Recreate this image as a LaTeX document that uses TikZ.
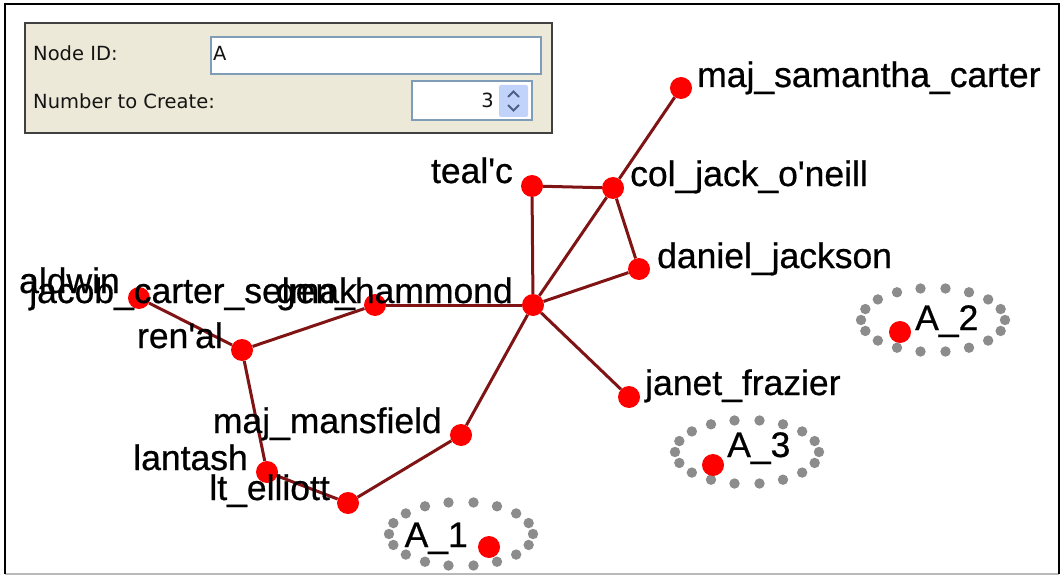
\documentclass[tikz,border=0pt]{standalone}
\usepackage{fontspec}
\setmainfont{Liberation Sans}[Ligatures=TeXOff]
\newfontfamily\labfont{Liberation Sans}[Ligatures=TeXOff, FakeBold=0.6]
\newfontfamily\uifont{DejaVu Sans}
\definecolor{edgered}{RGB}{128,20,20}
\definecolor{nodered}{RGB}{255,0,0}
\definecolor{dotgray}{RGB}{140,140,140}
\definecolor{panelbg}{RGB}{236,233,216}
\definecolor{panelborder}{RGB}{64,64,64}
\definecolor{fieldborder}{RGB}{127,157,185}
\definecolor{btnblue}{RGB}{193,211,251}
\definecolor{arrowc}{RGB}{77,97,133}
\definecolor{uitext}{RGB}{20,20,20}
\begin{document}
\begin{tikzpicture}[x=1pt,y=-1pt,
  edge/.style={draw=edgered, line width=3pt},
  vert/.style={circle, fill=nodered, minimum size=22pt, inner sep=0pt},
  lab/.style={font=\labfont\fontsize{35.5}{42}\selectfont, inner sep=0pt, text=black},
  ui/.style={font=\uifont\fontsize{19.5}{23}\selectfont, inner sep=0pt, text=uitext},
  dotring/.style={fill=dotgray}
]
\useasboundingbox (0,0) rectangle (1063,575);
\fill[white] (0,0) rectangle (1063,575);
% frame
\draw[gray!55, line width=2pt] (5,574) -- (1059,574);
\draw[black, line width=2pt] (5,574) -- (5,4) -- (1059,4) -- (1059,574);

% control panel
\draw[draw=panelborder, line width=2pt, fill=panelbg] (25,23) rectangle (552,133);
\draw[draw=fieldborder, line width=1.5pt, fill=white] (211,37) rectangle (541,74);
\draw[draw=fieldborder, line width=1.5pt, fill=white] (412,81) rectangle (532,120);
\fill[btnblue, rounded corners=2pt] (499,85) rectangle (528,117);
\draw[arrowc, line width=2pt] (508,97) -- (513.5,91.5) -- (519,97);
\draw[arrowc, line width=2pt] (508,105) -- (513.5,110.5) -- (519,105);
\node[ui, anchor=base west] (nidlabel) at (33,61) {Node ID:};
\node[ui, anchor=base west] (numlabel) at (33,109) {Number to Create:};
\node[ui, anchor=base west] (nidval) at (213,61) {A};
\node[ui, anchor=base east] (numval) at (494,108) {3};

% dotted rings
\foreach \cx/\cy in {461/534, 747/452, 933/320}{
  \foreach \a in {0,20,...,340}{
    \fill[dotring] (\cx,\cy) ++(\a:72 and 32) circle[radius=5.2pt];
  }
}

% graph nodes
\node[vert] (aldwin) at (139,298) {};
\node[vert] (jacob) at (375,305) {};
\node[vert] (gen) at (533,305) {};
\node[vert] (renal) at (242,350) {};
\node[vert] (lantash) at (267,472) {};
\node[vert] (elliott) at (348,503) {};
\node[vert] (mansfield) at (461,435) {};
\node[vert] (tealc) at (532,186) {};
\node[vert] (jack) at (613,188) {};
\node[vert] (sam) at (681,88) {};
\node[vert] (daniel) at (639,269) {};
\node[vert] (janet) at (629,397) {};
\node[vert] (a1) at (489,547) {};
\node[vert] (a3) at (713,465) {};
\node[vert] (a2) at (900,332) {};

% edges
\draw[edge] (aldwin) -- (renal);
\draw[edge] (renal) -- (jacob);
\draw[edge] (renal) -- (lantash);
\draw[edge] (lantash) -- (elliott);
\draw[edge] (elliott) -- (mansfield);
\draw[edge] (mansfield) -- (gen);
\draw[edge] (jacob) -- (gen);
\draw[edge] (gen) -- (tealc);
\draw[edge] (gen) -- (jack);
\draw[edge] (gen) -- (daniel);
\draw[edge] (gen) -- (janet);
\draw[edge] (tealc) -- (jack);
\draw[edge] (jack) -- (daniel);
\draw[edge] (jack) -- (sam);

% labels
\node[lab, anchor=base east] (laldwin) at ([shift={(-19,-5)}]aldwin.center) {aldwin};
\node[lab, anchor=base east] (ljacob) at ([shift={(-18,-2)}]jacob.center) {jacob\_carter\_selmak};
\node[lab, anchor=base east] (lgen) at ([shift={(-20,-2)}]gen.center) {gen\_hammond};
\node[lab, anchor=base east] (lrenal) at ([shift={(-19,-2)}]renal.center) {ren'al};
\node[lab, anchor=base east] (llantash) at ([shift={(-19,-2)}]lantash.center) {lantash};
\node[lab, anchor=base east] (lelliott) at ([shift={(-18,-3)}]elliott.center) {lt\_elliott};
\node[lab, anchor=base east] (lmansfield) at ([shift={(-19,-2)}]mansfield.center) {maj\_mansfield};
\node[lab, anchor=base east] (ltealc) at ([shift={(-19,-3)}]tealc.center) {teal'c};
\node[lab, anchor=base west] (ljack) at ([shift={(17,-2)}]jack.center) {col\_jack\_o'neill};
\node[lab, anchor=base west] (lsam) at ([shift={(16,-1)}]sam.center) {maj\_samantha\_carter};
\node[lab, anchor=base west] (ldaniel) at ([shift={(18,-1)}]daniel.center) {daniel\_jackson};
\node[lab, anchor=base west] (ljanet) at ([shift={(16,-2)}]janet.center) {janet\_frazier};
\node[lab, anchor=base east] (la1) at ([shift={(-21,0)}]a1.center) {A\_1};
\node[lab, anchor=base west] (la3) at ([shift={(14,-8)}]a3.center) {A\_3};
\node[lab, anchor=base west] (la2) at ([shift={(15,-2)}]a2.center) {A\_2};
\end{tikzpicture}
\end{document}
